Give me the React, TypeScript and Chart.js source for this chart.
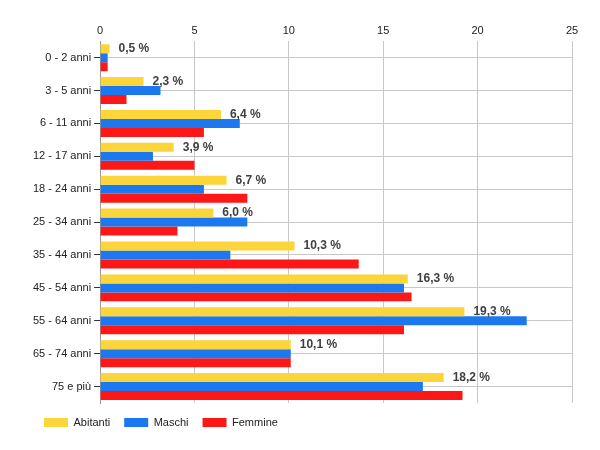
import React, { useEffect, useRef } from "react";
import { Chart, registerables } from "chart.js";
Chart.register(...registerables);

const categories = ["0 - 2 anni", "3 - 5 anni", "6 - 11 anni", "12 - 17 anni", "18 - 24 anni", "25 - 34 anni", "35 - 44 anni", "45 - 54 anni", "55 - 64 anni", "65 - 74 anni", "75 e più"];
const abitanti = [0.5, 2.3, 6.4, 3.9, 6.7, 6.0, 10.3, 16.3, 19.3, 10.1, 18.2];
const maschi = [0.4, 3.2, 7.4, 2.8, 5.5, 7.8, 6.9, 16.1, 22.6, 10.1, 17.1];
const femmine = [0.4, 1.4, 5.5, 5.0, 7.8, 4.1, 13.7, 16.5, 16.1, 10.1, 19.2];
const xTicks = [0, 5, 10, 15, 20, 25];

const labelPlugin = {
  id: "vals",
  afterDatasetsDraw(chart: any) {
    const ctx = chart.ctx;
    const meta = chart.getDatasetMeta(0);
    ctx.save();
    ctx.font = "bold 12px 'Liberation Sans', Arial, sans-serif";
    ctx.fillStyle = "#404040";
    ctx.textBaseline = "middle";
    meta.data.forEach((bar: any, i: number) => {
      ctx.fillText(abitanti[i].toFixed(1).replace(".", ",") + " %", bar.x + 9, bar.y);
    });
    ctx.restore();
  },
};

export default function App() {
  const ref = useRef<HTMLCanvasElement>(null);
  useEffect(() => {
    const chart = new Chart(ref.current!, {
      type: "bar",
      data: {
        labels: categories,
        datasets: [
          { label: "Abitanti", data: abitanti, backgroundColor: "#fbd53a" },
          { label: "Maschi", data: maschi, backgroundColor: "#1c78ee" },
          { label: "Femmine", data: femmine, backgroundColor: "#fe1717" },
        ],
      },
      options: {
        indexAxis: "y",
        animation: false,
        responsive: false,
        layout: { padding: { left: 22, right: 20, top: 12, bottom: 4 } },
        datasets: { bar: { categoryPercentage: 0.82, barPercentage: 1 } },
        font: { family: "'Liberation Sans', Arial, sans-serif", size: 11 },
        scales: {
          x: {
            position: "top",
            min: 0,
            max: 25,
            afterBuildTicks: (s: any) => { s.ticks = xTicks.map((v) => ({ value: v })); },
            grid: { color: "#c8c8c8", drawTicks: false },
            border: { display: false },
            ticks: { color: "#222", padding: 4, font: { size: 11 } },
          },
          y: {
            grid: { offset: false, color: "#c8c8c8", tickLength: 6, tickColor: "#333" },
            border: { color: "#999" },
            ticks: { color: "#222", font: { size: 11 } },
          },
        } as any,
        plugins: {
          legend: {
            position: "bottom",
            align: "start",
            labels: { boxWidth: 24, boxHeight: 9, color: "#222", font: { size: 11 }, padding: 14 },
          },
          tooltip: { enabled: false },
        },
      },
      plugins: [labelPlugin],
    } as any);
    return () => chart.destroy();
  }, []);
  return <canvas ref={ref} width={584} height={434} style={{ display: "block" }} />;
}
